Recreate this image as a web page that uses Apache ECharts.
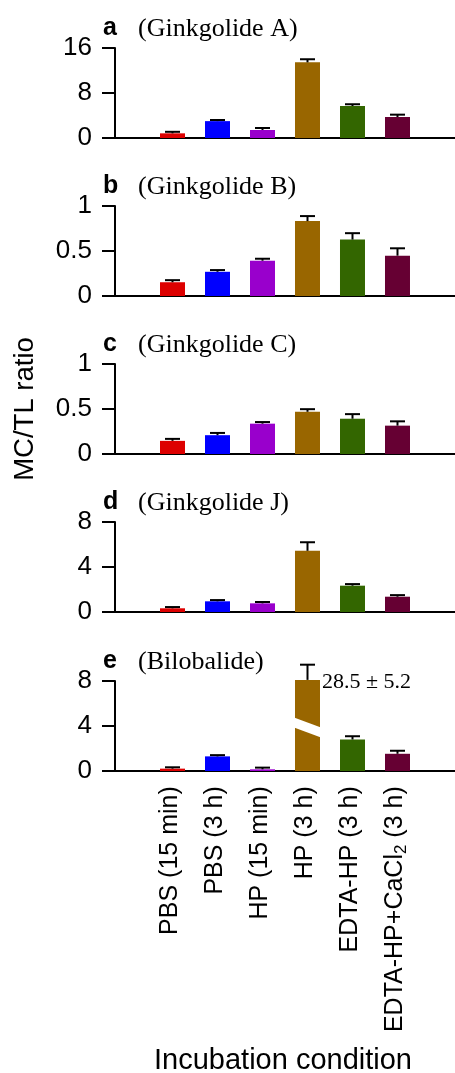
<!DOCTYPE html>
<html>
<head>
<meta charset="utf-8">
<script src="https://cdn.jsdelivr.net/npm/echarts@6/dist/echarts.min.js"></script>
<style>html,body{margin:0;padding:0;background:#fff;}#c{width:455px;height:1073px;}</style>
</head>
<body>
<div id="c"></div>
<script>
// ---- data ----
const categories = ['PBS (15 min)', 'PBS (3 h)', 'HP (15 min)', 'HP (3 h)', 'EDTA-HP (3 h)', 'EDTA-HP+CaCl2 (3 h)'];
const panelLetters = ['a', 'b', 'c', 'd', 'e'];
const panelNames = ['(Ginkgolide A)', '(Ginkgolide B)', '(Ginkgolide C)', '(Ginkgolide J)', '(Bilobalide)'];
const yMax = [16, 1, 1, 8, 8];
const yInterval = [8, 0.5, 0.5, 4, 4];
const meanA = [0.83, 3.0, 1.42, 13.45, 5.69, 3.73];
const errA  = [0.27, 0.2, 0.36, 0.55, 0.31, 0.42];
const meanB = [0.153, 0.269, 0.392, 0.832, 0.627, 0.448];
const errB  = [0.023, 0.019, 0.022, 0.056, 0.071, 0.082];
const meanC = [0.146, 0.209, 0.337, 0.469, 0.392, 0.315];
const errC  = [0.022, 0.025, 0.018, 0.029, 0.051, 0.048];
const meanD = [0.33, 0.95, 0.77, 5.44, 2.34, 1.36];
const errD  = [0.11, 0.11, 0.12, 0.76, 0.14, 0.14];
const meanE = [0.21, 1.3, 0.15, 28.5, 2.8, 1.53];
const errE  = [0.12, 0.11, 0.15, 5.2, 0.29, 0.27];
// broken bar in panel e (value too large for the axis)
const brokenIndex = 3;
const brokenShownMean = 8.1;
const brokenShownErr = 1.35;
const brokenAt = 3.86;
const brokenLabel = '28.5 ± 5.2';

const means = [meanA, meanB, meanC, meanD, meanE];
const errs = [errA, errB, errC, errD, errE];

// ---- style ----
const colors = ['#dd0000', '#0000ff', '#9900cc', '#996600', '#336600', '#660033'];
const tops = [48, 206, 364, 522, 681];
const gridH = 90;
const SANS = 'Liberation Sans, Arial, sans-serif';
const SERIF = 'Liberation Serif, Times New Roman, serif';

const grids = [], xAxes = [], yAxes = [], series = [], graphics = [];

for (let i = 0; i < 5; i++) {
  grids.push({ left: 115, right: 0, top: tops[i], height: gridH });
  xAxes.push({
    type: 'value', gridIndex: i, min: -1.278, max: 6.278,
    axisLine: { show: true, onZero: false, lineStyle: { color: '#000', width: 2 } },
    axisTick: { show: false }, axisLabel: { show: false }, splitLine: { show: false }
  });
  const ya = {
    type: 'value', gridIndex: i, min: 0, max: yMax[i], interval: yInterval[i],
    axisLine: { show: true, onZero: false, lineStyle: { color: '#000', width: 2 } },
    axisTick: { show: true, length: 13, lineStyle: { color: '#000', width: 2 } },
    axisLabel: { color: '#000', fontSize: 26, fontFamily: SANS, margin: 23, formatter: v => String(v) },
    splitLine: { show: false }
  };
  if (i === 2) {
    ya.name = 'MC/TL ratio';
    ya.nameLocation = 'middle';
    ya.nameGap = 76;
    ya.nameTextStyle = { color: '#000', fontSize: 27.5, fontFamily: SANS };
  }
  yAxes.push(ya);

  const shown = means[i].map((m, k) => (i === 4 && k === brokenIndex) ? brokenShownMean : m);
  const shownErr = errs[i].map((e, k) => (i === 4 && k === brokenIndex) ? brokenShownErr : e);

  series.push({
    type: 'bar', xAxisIndex: i, yAxisIndex: i, barWidth: 25, clip: false,
    data: shown.map((m, k) => ({ value: [k, m], itemStyle: { color: colors[k] } })),
    z: 2
  });
  series.push({
    type: 'custom', xAxisIndex: i, yAxisIndex: i, clip: false, z: 4,
    encode: { x: 0, y: [1, 2] },
    data: shown.map((m, k) => [k, m, m + shownErr[k]]),
    renderItem: function (params, api) {
      const p0 = api.coord([api.value(0), api.value(1)]);
      const p1 = api.coord([api.value(0), api.value(2)]);
      const st = { stroke: '#000', lineWidth: 2 };
      return {
        type: 'group', children: [
          { type: 'line', shape: { x1: p0[0], y1: p0[1], x2: p1[0], y2: p1[1] }, style: st },
          { type: 'line', shape: { x1: p1[0] - 7.5, y1: p1[1], x2: p1[0] + 7.5, y2: p1[1] }, style: st }
        ]
      };
    }
  });

  graphics.push({
    type: 'text', x: 103, y: tops[i] - 20,
    style: { text: panelLetters[i], font: 'bold 25px ' + SANS, fill: '#000', verticalAlign: 'middle' }
  });
  graphics.push({
    type: 'text', x: 138, y: tops[i] - 19,
    style: { text: panelNames[i], font: '26px ' + SERIF, fill: '#000', verticalAlign: 'middle' }
  });
}

// break mark on the large bar of panel e
series.push({
  type: 'custom', xAxisIndex: 4, yAxisIndex: 4, clip: false, z: 3,
  data: [[brokenIndex, brokenAt]],
  renderItem: function (params, api) {
    const p = api.coord([api.value(0), api.value(1)]);
    const L = p[0] - 13.5, R = p[0] + 13.5;
    return {
      type: 'polygon',
      shape: { points: [[L, p[1] - 10], [R, p[1]], [R, p[1] + 10], [L, p[1]]] },
      style: { fill: '#fff' }
    };
  }
});
// real value label
series.push({
  type: 'custom', xAxisIndex: 4, yAxisIndex: 4, clip: false, z: 5,
  data: [[brokenIndex, brokenShownMean]],
  renderItem: function (params, api) {
    const p = api.coord([api.value(0), api.value(1)]);
    return {
      type: 'text', x: p[0] + 14.5, y: p[1] + 2,
      style: { text: brokenLabel, font: '22px ' + SERIF, fill: '#000', verticalAlign: 'middle', align: 'left' }
    };
  }
});

// category label axis under the last panel
grids.push({ left: 148, right: 37, top: 771, height: 1 });
xAxes.push({
  type: 'category', gridIndex: 5, data: categories, boundaryGap: true,
  axisLine: { show: false }, axisTick: { show: false },
  axisLabel: {
    rotate: 90, margin: 15, interval: 0, color: '#000', fontSize: 25, fontFamily: SANS,
    formatter: function (v) {
      if (v.indexOf('CaCl2') >= 0) {
        const parts = v.split('CaCl2');
        return '{n|' + parts[0] + 'CaCl}{s|2}{n|' + parts[1] + '}';
      }
      return '{n|' + v + '}';
    },
    rich: {
      n: { fontSize: 25, fontFamily: SANS, color: '#000', lineHeight: 29 },
      s: { fontSize: 17, fontFamily: SANS, color: '#000', verticalAlign: 'bottom', lineHeight: 16 }
    }
  },
  name: 'Incubation condition', nameLocation: 'middle', nameGap: 275,
  nameTextStyle: { color: '#000', fontSize: 29, fontFamily: SANS, verticalAlign: 'top' }
});
yAxes.push({ type: 'value', gridIndex: 5, show: false });

const chart = echarts.init(document.getElementById('c'), null, { renderer: 'canvas' });
chart.setOption({
  animation: false,
  backgroundColor: '#fff',
  grid: grids, xAxis: xAxes, yAxis: yAxes, series: series, graphic: graphics
});
</script>
</body>
</html>
